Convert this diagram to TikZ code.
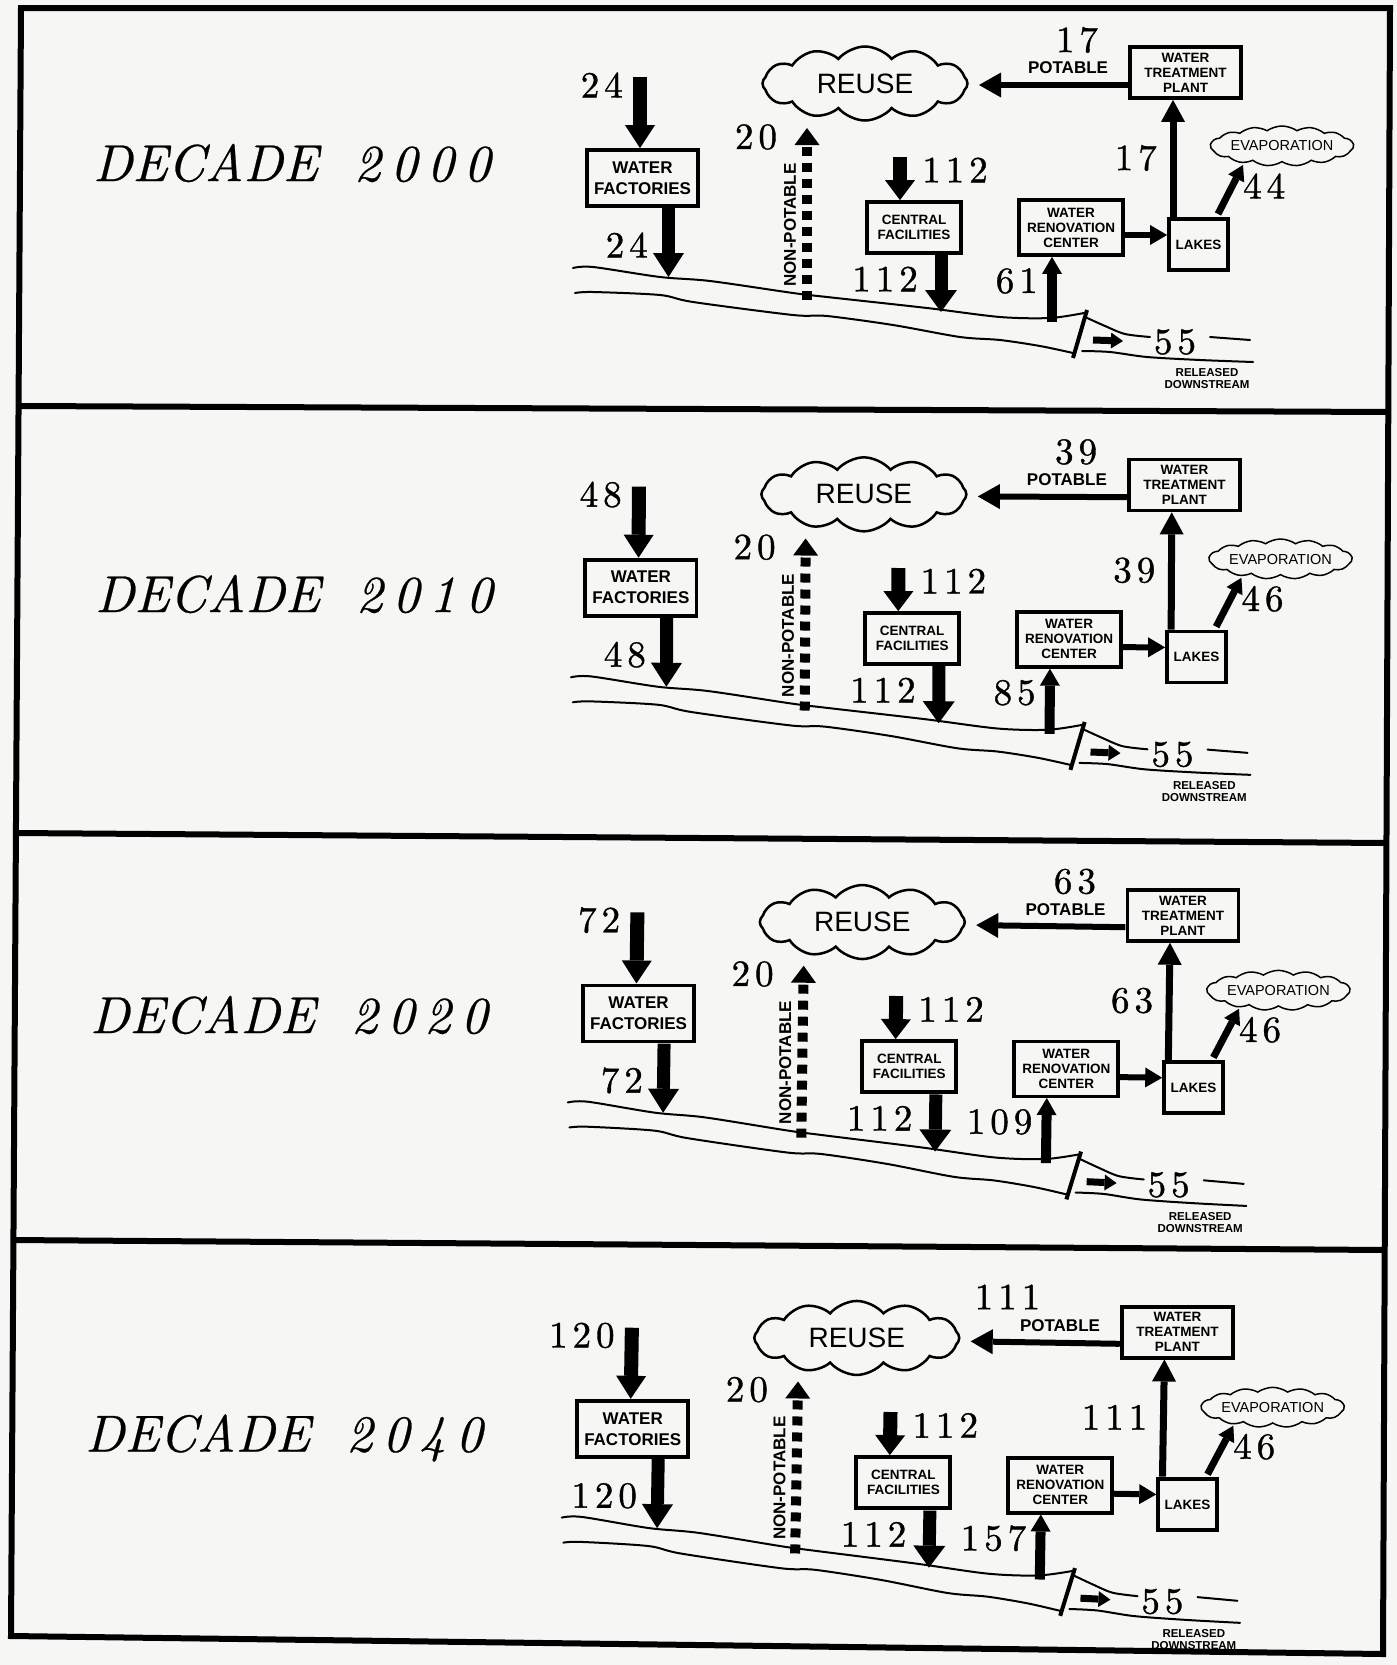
\documentclass[tikz,border=0pt]{standalone}
\usepackage{fontspec}
\newfontfamily\lsans{Liberation Sans}
\newfontfamily\numfont{lmroman10-regular.otf}[FakeBold=1]
\newfontfamily\decfont{lmroman10-italic.otf}[FakeBold=0.5]
\usetikzlibrary{arrows.meta,shapes.symbols}
\definecolor{paper}{RGB}{246,246,244}
\def\dsep{5pt}
\makeatletter
\def\sdig#1{\sdig@#1\@nil}
\def\sdig@#1#2\@nil{#1\ifx\relax#2\relax\else\kern\dsep\sdig@#2\@nil\fi}
\makeatother
\newcommand\decdigits[1]{{\def\dsep{10pt}\sdig{#1}}}
\tikzset{
  frame/.style={line width=6pt, line join=miter},
  box/.style={draw, line width=3.8pt, inner sep=0pt, align=center},
  blk/.style n args={3}{line width=#1, -{Triangle[length=#2,width=#3,line width=0pt]}},
  npl/.style={line width=10pt, dash pattern=on 9pt off 7pt, -{Triangle[length=17pt,width=25pt,line width=0pt]}},
  num/.style={inner sep=0pt, font=\numfont\fontsize{37}{37}\selectfont},
  lab/.style={inner sep=0pt, font=\lsans\bfseries\fontsize{17}{17}\selectfont},
  river/.style={line width=2pt, line join=round, line cap=round},
  decade/.style={inner sep=0pt, anchor=west, font=\decfont\fontsize{52}{52}\selectfont},
}
\newcommand\drawpanel[5]{%
  % boxes and clouds
  \node[box, minimum width=111pt, minimum height=56pt, font=\lsans\bfseries\fontsize{17}{21}\selectfont] (wf) at (642.5,178) {WATER\\FACTORIES};
  \node[box, minimum width=94pt, minimum height=51pt, font=\lsans\bfseries\fontsize{13.5}{15}\selectfont] (cf) at (914,227.5) {CENTRAL\\FACILITIES};
  \node[box, minimum width=111pt, minimum height=51pt, font=\lsans\bfseries\fontsize{13.5}{15}\selectfont] (wtp) at (1185.5,72.5) {WATER\\TREATMENT\\PLANT};
  \node[box, minimum width=104pt, minimum height=55pt, font=\lsans\bfseries\fontsize{13.5}{15}\selectfont] (wrc) at (1071,227.5) {WATER\\RENOVATION\\CENTER};
  \node[box, minimum width=59pt, minimum height=51pt, font=\lsans\bfseries\fontsize{13.5}{15}\selectfont] (lk) at (1198.5,244.5) {LAKES};
  \node[cloud, draw, line width=2.5pt, cloud puffs=12, cloud puff arc=100, cloud ignores aspect, minimum width=205pt, minimum height=74pt, inner sep=0pt, font=\lsans\fontsize{28}{28}\selectfont] (reuse) at (865,83.5) {REUSE};
  \node[cloud, draw, line width=1.5pt, cloud puffs=15, cloud puff arc=70, cloud ignores aspect, minimum width=128pt, minimum height=40pt, inner sep=0pt, font=\lsans\fontsize{14.5}{15}\selectfont] (ev) at (1282,146) {EVAPORATION};
  % river
  \draw[river] plot[smooth, tension=0.5] coordinates {(573,268) (593,267) (660,277) (710,281) (793,293) (827,297) (927,308) (1000,317) (1050,318) (1084,313)};
  \draw[river] plot[smooth, tension=0.5] coordinates {(1085,317) (1105,326) (1125,334) (1150,337)};
  \draw[river] (1210,337) -- (1250,340);
  \draw[river] plot[smooth, tension=0.5] coordinates {(575,293) (593,292) (660,295) (693,302) (793,315) (827,316) (893,325) (960,337) (1000,340) (1040,346) (1073,353)};
  \draw[river] plot[smooth, tension=0.5] coordinates {(1082,351) (1110,352) (1147,357) (1200,360) (1253,362)};
  \coordinate (dm1) at (1087,310);
  \coordinate (dm2) at (1073,358);
  \draw[line width=4pt] (dm1) -- (dm2);
  % connector end points
  \coordinate (a1) at (640,77);
  \coordinate (r1) at (668.5,277);
  \coordinate (np0) at (807,300);
  \coordinate (np1) at (807,128);
  \coordinate (c0) at (900,157);
  \coordinate (r2) at (941,312);
  \coordinate (r3) at (1052,322);
  \coordinate (w1) at (1125,235);
  \coordinate (l1) at (1173,217);
  \coordinate (l2) at (1218,214);
  \coordinate (e1) at (1243,165);
  \coordinate (p1) at (979,85);
  \coordinate (d1) at (1093,340);
  \coordinate (d2) at (1123,341);
  % arrows
  \draw[blk={14pt}{23pt}{30pt}] (a1) -- (wf.north -| a1);
  \draw[blk={13pt}{24pt}{31pt}] (wf.south -| r1) -- (r1);
  \draw[npl] (np0) -- (np1);
  \draw[blk={14pt}{20pt}{30pt}] (c0) -- (cf.north -| c0);
  \draw[blk={13pt}{22pt}{32pt}] (cf.south -| r2) -- (r2);
  \draw[blk={10pt}{17pt}{20pt}] (r3) -- (wrc.south -| r3);
  \draw[blk={6pt}{17pt}{20pt}] (wrc.east |- w1) -- (lk.west |- w1);
  \draw[blk={7pt}{22pt}{24pt}] (lk.north -| l1) -- (wtp.south -| l1);
  \draw[blk={7pt}{15pt}{18pt}] (l2) -- (e1);
  \draw[blk={6pt}{22pt}{25pt}] (wtp.west |- p1) -- (p1);
  \draw[blk={7pt}{12pt}{16pt}] (d1) -- (d2);
  % labels
  \node[num, anchor=east] (t1) at (623,85) {\sdig{#1}};
  \node[num, anchor=east] (t2) at (648,245) {\sdig{#1}};
  \node[num] (t3) at (756,137) {\sdig{20}};
  \node[num, anchor=west] (t4) at (922,170) {\sdig{112}};
  \node[num, anchor=east] (t5) at (918,279) {\sdig{112}};
  \node[num] (t6) at (#5,40) {\sdig{#2}};
  \node[lab] (t7) at (1068,68) {POTABLE};
  \node[num, anchor=east] (t8) at (1157,158) {\sdig{#2}};
  \node[num, anchor=west] (t9) at (1243,186) {\sdig{#4}};
  \node[num, anchor=east] (t10) at (1038,281) {\sdig{#3}};
  \node[num] (t11) at (1175,342) {\sdig{55}};
  \node[inner sep=0pt, align=center, font=\lsans\bfseries\fontsize{11.5}{12}\selectfont] (t12) at (1207,379) {RELEASED\\DOWNSTREAM};
  \node[lab, rotate=90] (t13) at (790,225) {NON-POTABLE};
}
\begin{document}
\begin{tikzpicture}[x=1pt,y=-1pt]
\fill[paper] (0,0) rectangle (1397,1665);
\useasboundingbox (0,0) rectangle (1397,1665);
% frame
\draw[frame] (21,8) -- (1390,8) -- (1383,1654) -- (11,1636) -- cycle;
\draw[frame] (20,406) -- (1389,412);
\draw[frame] (15,833) -- (1387,843);
\draw[frame] (12,1240) -- (1385,1250);
% decade labels
\node[decade] (dec1) at (93,163) {DECADE\hspace{36pt}\decdigits{2000}};
\node[decade] (dec2) at (95,594) {DECADE\hspace{36pt}\decdigits{2010}};
\node[decade] (dec3) at (90,1015) {DECADE\hspace{36pt}\decdigits{2020}};
\node[decade] (dec4) at (85,1438) {DECADE\hspace{36pt}\decdigits{2040}};
% panels
\begin{scope}[name prefix=p1-]
  \drawpanel{24}{17}{61}{44}{1077}
\end{scope}
\begin{scope}[name prefix=p2-, shift={(-2,411)}, rotate around={-0.3:(900,250)}]
  \drawpanel{48}{39}{85}{46}{1077}
\end{scope}
\begin{scope}[name prefix=p3-, shift={(-5,839)}, rotate around={-0.8:(900,250)}]
  \drawpanel{72}{63}{109}{46}{1077}
\end{scope}
\begin{scope}[name prefix=p4-, shift={(-11,1255)}, rotate around={-0.95:(900,250)}]
  \drawpanel{120}{111}{157}{46}{1015}
\end{scope}
\end{tikzpicture}
\end{document}
